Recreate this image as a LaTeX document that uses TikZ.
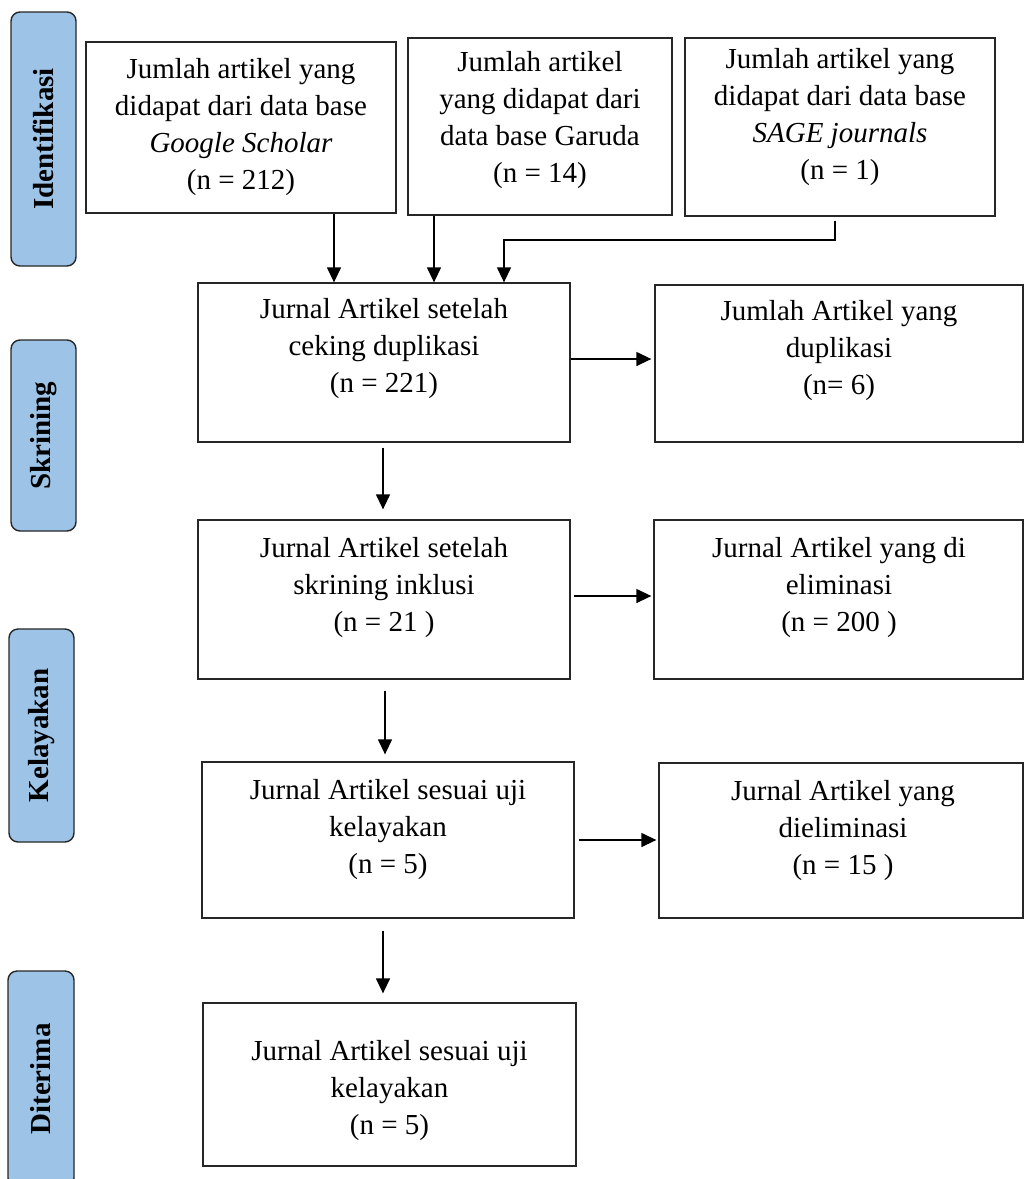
\documentclass[tikz,border=0pt]{standalone}
\usepackage{fontspec}
\setmainfont{Liberation Serif}
\usetikzlibrary{arrows.meta,fit}
\definecolor{sidefill}{HTML}{9DC3E6}
\begin{document}
\begin{tikzpicture}[x=1pt,y=-1pt,
  mbox/.style={draw=black!85, line width=1.3pt, inner sep=0pt},
  sidebox/.style={draw=black!85, line width=1.4pt, fill=sidefill, rounded corners=9pt, inner sep=0pt},
  sidetxt/.style={rotate=90, font=\fontsize{29}{37}\selectfont\bfseries, inner sep=0pt},
  txt/.style={anchor=north, inner sep=0pt, align=center, font=\fontsize{29}{37}\selectfont},
  arr/.style={draw=black, line width=1.3pt, -{Triangle[length=15pt,width=14pt]}}]
\useasboundingbox (0,0) rectangle (1024,1179);

% side stage labels
\node[sidebox, fit={(11,12) (76,266)}] (ident) {};
\node[sidetxt] (identT) at (ident.center) {Identifikasi};
\node[sidebox, fit={(11,340) (76,531)}] (skrin) {};
\node[sidetxt] (skrinT) at (skrin.center) {Skrining};
\node[sidebox, fit={(9,629) (74,842)}] (kelay) {};
\node[sidetxt] (kelayT) at (kelay.center) {Kelayakan};
\node[sidebox, fit={(8,971) (74,1187)}] (diter) {};
\node[sidetxt] (diterT) at (diter.center) {Diterima};

% boxes
\node[mbox, fit={(86,42) (396,213)}] (gs) {};
\node[mbox, fit={(408,38) (672,215)}] (gar) {};
\node[mbox, fit={(685,38) (995,216)}] (sage) {};
\node[mbox, fit={(198,283) (570,442)}] (cek) {};
\node[mbox, fit={(655,285) (1023,442)}] (dup) {};
\node[mbox, fit={(198,520) (570,679)}] (ink) {};
\node[mbox, fit={(654,520) (1023,679)}] (elim) {};
\node[mbox, fit={(202,762) (574,918)}] (kel) {};
\node[mbox, fit={(659,763) (1023,918)}] (diel) {};
\node[mbox, fit={(203,1003) (576,1166)}] (ter) {};

% texts
\node[txt] (gsT) at (241,52.1) {\strut Jumlah artikel yang\\didapat dari data base\\\textit{Google Scholar}\\(n = 212)};
\node[txt] (garT) at (540,45.1) {\strut Jumlah artikel\\yang didapat dari\\data base Garuda\\(n = 14)};
\node[txt] (sageT) at (840,42.6) {\strut Jumlah artikel yang\\didapat dari data base\\\textit{SAGE journals}\\(n = 1)};
\node[txt] (cekT) at (384,292.1) {\strut Jurnal Artikel setelah\\ceking duplikasi\\(n = 221)};
\node[txt] (dupT) at (839,294.1) {\strut Jumlah Artikel yang\\duplikasi\\(n= 6)};
\node[txt] (inkT) at (384,531.1) {\strut Jurnal Artikel setelah\\skrining inklusi\\(n = 21 )};
\node[txt] (elimT) at (839,531.1) {\strut Jurnal Artikel yang di\\eliminasi\\(n = 200 )};
\node[txt] (kelT) at (388,773.1) {\strut Jurnal Artikel sesuai uji\\kelayakan\\(n = 5)};
\node[txt] (dielT) at (843,774.1) {\strut Jurnal Artikel yang\\dieliminasi\\(n = 15 )};
\node[txt] (terT) at (389.5,1034.1) {\strut Jurnal Artikel sesuai uji\\kelayakan\\(n = 5)};

% helper coordinates
\coordinate (xa) at (334,0);
\coordinate (xb) at (434,0);
\coordinate (xc) at (504,0);
\coordinate (xd) at (835,0);
\coordinate (xs1) at (383,0);
\coordinate (xs2) at (385,0);
\coordinate (xs3) at (383,0);
\coordinate (ysage) at (0,240);
\coordinate (ya) at (0,359);
\coordinate (yb) at (0,596);
\coordinate (yc) at (0,840);

% connectors
\draw[arr] (gs.south -| xa) -- (cek.north -| xa);
\draw[arr] (gar.south -| xb) -- (cek.north -| xb);
\draw[arr] ([yshift=-4pt]sage.south -| xd) -- (ysage -| xd) -- (ysage -| xc) -- (cek.north -| xc);
\draw[arr] (cek.east |- ya) -- ([xshift=-3pt]dup.west |- ya);
\draw[arr] ([yshift=-5pt]cek.south -| xs1) -- ([yshift=10pt]ink.north -| xs1);
\draw[arr] ([xshift=3pt]ink.east |- yb) -- ([xshift=-2pt]elim.west |- yb);
\draw[arr] ([yshift=-11pt]ink.south -| xs2) -- ([yshift=7pt]kel.north -| xs2);
\draw[arr] ([xshift=4pt]kel.east |- yc) -- ([xshift=-2pt]diel.west |- yc);
\draw[arr] ([yshift=-12pt]kel.south -| xs3) -- ([yshift=9pt]ter.north -| xs3);
\end{tikzpicture}
\end{document}
